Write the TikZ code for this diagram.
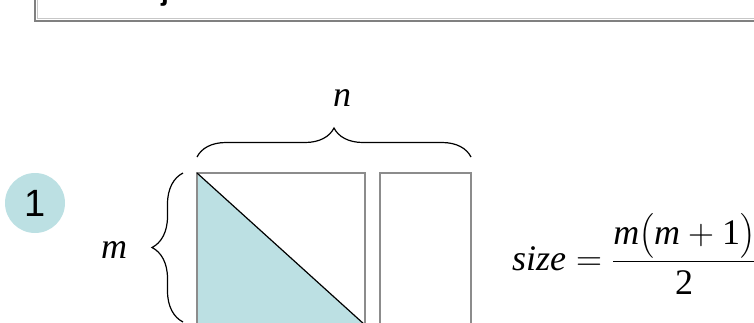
\RequirePackage{fix-cm}
\documentclass[tikz,border=0pt]{standalone}
\usepackage{amsmath}
\usepackage{fontspec}
\setmainfont{Liberation Serif}
\setsansfont{Liberation Sans}
\usepackage{tikz}
\usetikzlibrary{decorations.pathreplacing}
\definecolor{lightteal}{HTML}{BCE0E3}
\definecolor{framegray}{HTML}{8C8C8C}

\begin{document}
\begin{tikzpicture}[x=1pt, y=-1pt,
    bigfont/.style={font=\fontsize{36}{40}\selectfont},
    cell/.style={draw=framegray, line width=1.5pt},
    bracedeco/.style={decorate, decoration={brace, amplitude=#1}, line width=1.2pt}]
    \useasboundingbox (0,0) rectangle (754,322);
    \clip (0,0) rectangle (754,322);

    % frame of the box above
    \draw[line width=2pt, color=black!50] (35,-10) |- (780,21);
    \draw[line width=0.8pt, color=black!22] (37.5,-10) |- (780,18.5);
    \node[anchor=base, font=\sffamily\bfseries\fontsize{28}{30}\selectfont] (frag) at (165,0.5) {j};

    % step number
    \node[circle, fill=lightteal, minimum size=60pt, inner sep=0pt,
          font=\sffamily\fontsize{38}{42}\selectfont] (num) at (35,203) {1};

    % the matrix
    \coordinate (tl) at (197,173);
    \coordinate (br) at (365,325);
    \fill[lightteal] (tl) -- (br) -- (tl |- br) -- cycle;
    \draw[cell] (tl) rectangle (br);
    \draw[cell] (380,173) rectangle (471,325);
    \draw[line width=1.2pt] (tl) -- (br);

    % dimensions
    \draw[bracedeco=31pt] (183,322) -- (183,173);
    \node[bigfont] (mlab) at (114,250) {\textit{m}};
    \draw[bracedeco=29pt] (197,157) -- (471,157);
    \node[bigfont] (nlab) at (342,98) {\textit{n}};

    % size formula
    \node[bigfont, anchor=west, inner sep=0pt] (size) at (512,254)
        {$\textit{size} = \dfrac{\textit{m}\big(\textit{m}+\text{1}\big)}{\text{2}}$};
\end{tikzpicture}
\end{document}
